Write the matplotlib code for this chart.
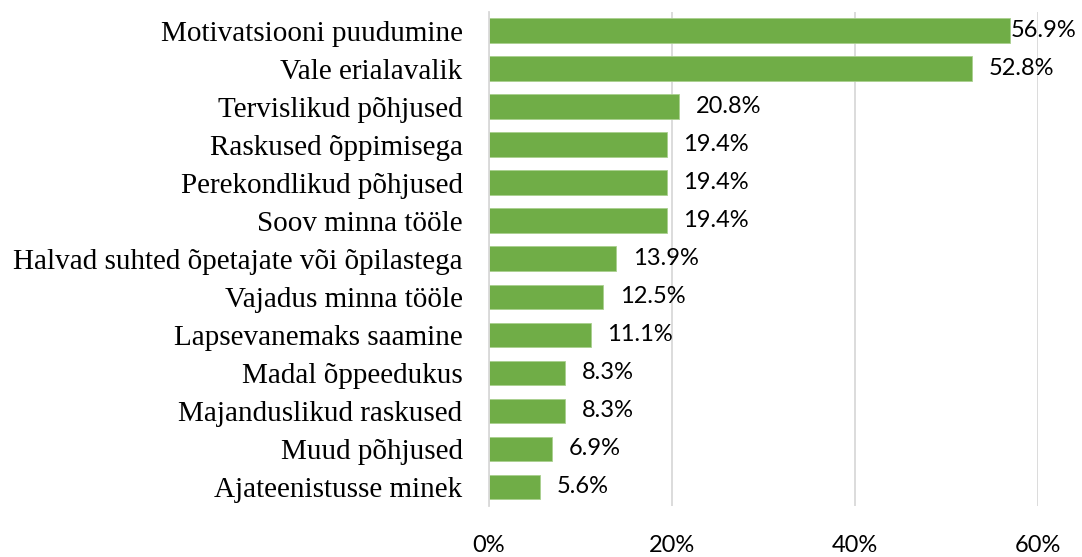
import matplotlib
matplotlib.use('Agg')
import matplotlib.pyplot as plt
from matplotlib.ticker import FuncFormatter

# Data
categories = ['Motivatsiooni puudumine', 'Vale erialavalik', 'Tervislikud põhjused',
              'Raskused õppimisega', 'Perekondlikud põhjused', 'Soov minna tööle',
              'Halvad suhted õpetajate või õpilastega', 'Vajadus minna tööle',
              'Lapsevanemaks saamine', 'Madal õppeedukus', 'Majanduslikud raskused',
              'Muud põhjused', 'Ajateenistusse minek']
values = [56.9, 52.8, 20.8, 19.4, 19.4, 19.4, 13.9, 12.5, 11.1, 8.3, 8.3, 6.9, 5.6]
xticks = [0, 20, 40, 60]

bar_color = '#70AD47'
grid_color = '#D9D9D9'

fig = plt.figure(figsize=(10.82, 5.57), dpi=100)
ax = fig.add_axes([489 / 1082, 1 - 506 / 557, (1038 - 489) / 1082, (506 - 11.5) / 557])

ypos = list(range(len(categories)))
ax.barh(ypos, values, height=0.645, color=bar_color, edgecolor='#A9D08E', linewidth=0.6, zorder=3)

ax.set_xlim(0, 60)
ax.set_ylim(len(categories) - 0.5, -0.5)
ax.set_yticks(ypos)
ax.set_yticklabels(categories, fontfamily='Liberation Serif', fontsize=21)
ax.set_xticks(xticks)
ax.xaxis.set_major_formatter(FuncFormatter(lambda v, p: f'{v:.0f}%'))
for lab in ax.get_xticklabels():
    lab.set_fontfamily('Lato')
    lab.set_fontsize(17)

ax.tick_params(axis='y', length=0, pad=19)
ax.tick_params(axis='x', length=0, pad=21)

for s in ['top', 'right', 'bottom']:
    ax.spines[s].set_visible(False)
ax.spines['left'].set_color(grid_color)
ax.spines['left'].set_linewidth(1.3)
ax.spines['left'].set_zorder(4)

ax.grid(axis='x', color=grid_color, linewidth=1.3, zorder=0)
ax.set_axisbelow(True)

# value labels, the longest one sits right on the bar end
for y, v in zip(ypos, values):
    pad = 1 if v > 55 else 12
    ax.annotate(f'{v:.1f}%', xy=(v, y), xytext=(pad, 0), textcoords='offset points',
                ha='left', va='center', fontfamily='Lato', fontsize=17, color='black',
                annotation_clip=False, zorder=5)

fig.savefig('out.png', dpi=100)
